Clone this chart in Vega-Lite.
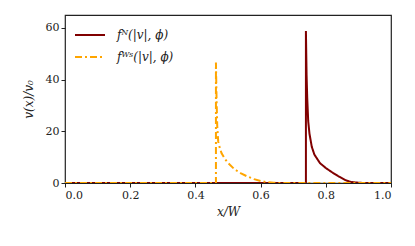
{
  "$schema": "https://vega.github.io/schema/vega-lite/v6.json",
  "width": 326,
  "height": 168,
  "autosize": {"type": "none"},
  "padding": {"left": 65, "top": 15, "right": 24, "bottom": 63},
  "config": {
    "font": "DejaVu Serif",
    "view": {"stroke": "#222", "strokeWidth": 1.2},
    "axis": {"grid": false, "domain": false, "tickColor": "#222", "tickSize": 4, "labelFontSize": 11, "labelColor": "#222", "titleColor": "#222", "titleFontWeight": "normal", "titleFontSize": 12, "titleFontStyle": "italic", "labelFont": "DejaVu Serif", "titleFont": "DejaVu Serif"}
  },
  "data": {
    "values": [
      {"s": "N", "i": 0, "x": 0.0, "y": 0},
      {"s": "N", "i": 1, "x": 0.739, "y": 0},
      {"s": "N", "i": 2, "x": 0.739, "y": 58.8},
      {"s": "N", "i": 3, "x": 0.741, "y": 42},
      {"s": "N", "i": 4, "x": 0.743, "y": 33},
      {"s": "N", "i": 5, "x": 0.746, "y": 24},
      {"s": "N", "i": 6, "x": 0.75, "y": 19},
      {"s": "N", "i": 7, "x": 0.757, "y": 14},
      {"s": "N", "i": 8, "x": 0.765, "y": 11},
      {"s": "N", "i": 9, "x": 0.782, "y": 7.7},
      {"s": "N", "i": 10, "x": 0.8, "y": 5.8},
      {"s": "N", "i": 11, "x": 0.822, "y": 3.9},
      {"s": "N", "i": 12, "x": 0.84, "y": 2.5},
      {"s": "N", "i": 13, "x": 0.864, "y": 0.9},
      {"s": "N", "i": 14, "x": 0.88, "y": 0.35},
      {"s": "N", "i": 15, "x": 0.9, "y": 0.1},
      {"s": "N", "i": 16, "x": 0.92, "y": 0},
      {"s": "N", "i": 17, "x": 1.0, "y": 0},
      {"s": "WS", "i": 0, "x": 0.0, "y": 0},
      {"s": "WS", "i": 1, "x": 0.463, "y": 0},
      {"s": "WS", "i": 2, "x": 0.463, "y": 46.6},
      {"s": "WS", "i": 3, "x": 0.465, "y": 32},
      {"s": "WS", "i": 4, "x": 0.467, "y": 22},
      {"s": "WS", "i": 5, "x": 0.47, "y": 16},
      {"s": "WS", "i": 6, "x": 0.475, "y": 13.5},
      {"s": "WS", "i": 7, "x": 0.48, "y": 11.6},
      {"s": "WS", "i": 8, "x": 0.49, "y": 9.4},
      {"s": "WS", "i": 9, "x": 0.5, "y": 7.8},
      {"s": "WS", "i": 10, "x": 0.52, "y": 5.3},
      {"s": "WS", "i": 11, "x": 0.54, "y": 3.7},
      {"s": "WS", "i": 12, "x": 0.56, "y": 2.5},
      {"s": "WS", "i": 13, "x": 0.58, "y": 1.5},
      {"s": "WS", "i": 14, "x": 0.6, "y": 0.8},
      {"s": "WS", "i": 15, "x": 0.62, "y": 0.3},
      {"s": "WS", "i": 16, "x": 0.64, "y": 0.1},
      {"s": "WS", "i": 17, "x": 0.66, "y": 0},
      {"s": "WS", "i": 18, "x": 1.0, "y": 0}
    ]
  },
  "mark": {"type": "line", "strokeWidth": 2, "clip": true},
  "encoding": {
    "x": {"field": "x", "type": "quantitative", "scale": {"domain": [0, 1], "nice": false, "zero": false}, "axis": {"values": [0, 0.2, 0.4, 0.6, 0.8, 1.0], "format": ".1f", "title": "x/W", "titlePadding": 6}},
    "y": {"field": "y", "type": "quantitative", "scale": {"domain": [0, 65], "nice": false}, "axis": {"values": [0, 20, 40, 60], "title": "v(x)/v₀", "titlePadding": 10}},
    "order": {"field": "i", "type": "quantitative"},
    "color": {
      "field": "s", "type": "nominal",
      "scale": {"domain": ["N", "WS"], "range": ["#800000", "#ffa500"]},
      "legend": {"orient": "none", "legendX": 9, "legendY": 4, "title": null, "labelExpr": "datum.value == 'N' ? 'fᴺ(|v|, ϕ)' : 'fᵂˢ(|v|, ϕ)'", "labelFontSize": 12, "labelFontStyle": "italic", "labelFont": "DejaVu Serif", "labelColor": "#222", "symbolSize": 900, "symbolStrokeWidth": 2, "rowPadding": -3, "labelOffset": 11}
    },
    "strokeDash": {
      "field": "s", "type": "nominal",
      "scale": {"domain": ["N", "WS"], "range": [[1, 0], [7, 3, 2, 3]]},
      "legend": {"orient": "none", "legendX": 9, "legendY": 4, "title": null, "labelExpr": "datum.value == 'N' ? 'fᴺ(|v|, ϕ)' : 'fᵂˢ(|v|, ϕ)'", "labelFontSize": 12, "labelFontStyle": "italic", "labelFont": "DejaVu Serif", "labelColor": "#222", "symbolSize": 900, "symbolStrokeWidth": 2, "rowPadding": -3, "labelOffset": 11}
    }
  }
}
